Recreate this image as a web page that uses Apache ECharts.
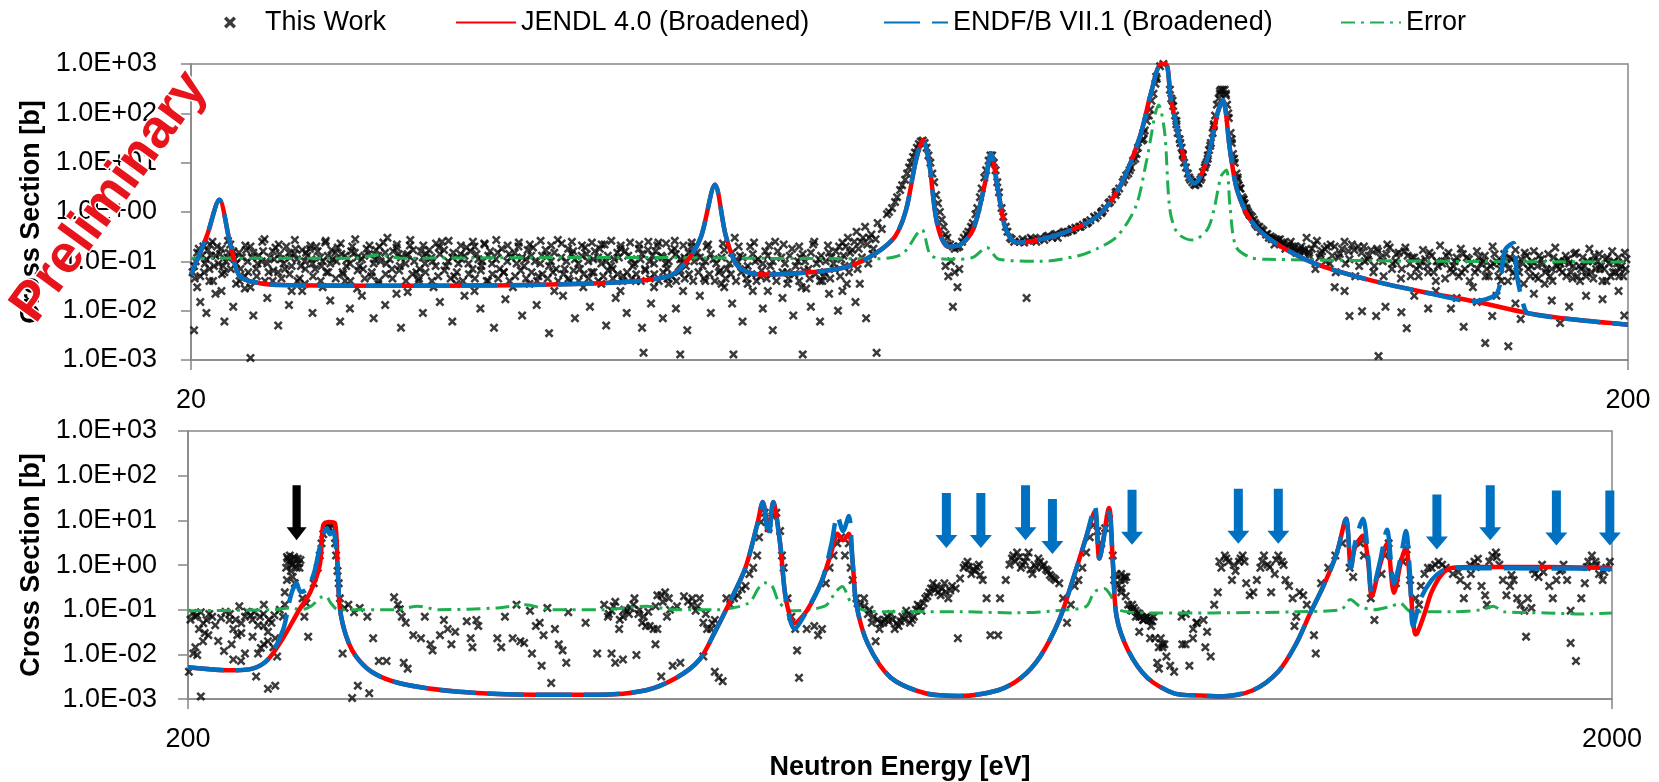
<!DOCTYPE html>
<html><head><meta charset="utf-8">
<script src="https://cdn.jsdelivr.net/npm/echarts@6/dist/echarts.min.js"></script>
<style>html,body{margin:0;padding:0;background:#fff}#c{width:1659px;height:782px}</style>
</head><body><div id="c"></div>
<script>
// ---------- data (energy eV, cross section b) ----------
const yTicks = [0.001, 0.01, 0.1, 1, 10, 100, 1000];
const topXTicks = [20, 200];
const botXTicks = [200, 2000];
const seriesNames = ['This Work', 'JENDL 4.0 (Broadened)', 'ENDF/B VII.1 (Broadened)', 'Error'];

const topWork = [
[20.1,.08],[20.2,.15],[20.3,.05],[20.4,.2],[20.5,.11],[20.6,.07],[20.7,.25],[20.8,.13],[20.9,.09],[21.0,.18],[21.1,.06],[21.2,.12],[21.3,.22],[21.5,.09],[21.6,.15],[21.8,.05],[21.9,.1],[22.0,.2],[22.2,.07],[22.3,.13],[22.5,.28],[22.6,.09],[22.8,.16],[23.0,.06],[23.1,.11],[23.3,.2],[23.5,.08],[23.6,.14],[23.8,.045],[24.0,.1],[24.2,.18],[24.4,.07],[24.6,.12],[24.8,.24],[25.0,.09],[25.2,.15],[25.5,.06],[25.7,.11],[25.9,.2],[26.2,.08],[26.4,.13],[26.7,.05],[26.9,.17],[27.1,.1],[27.4,.3],[27.6,.07],[27.9,.14],[28.2,.09],[28.4,.21],[28.7,.06],[29.0,.12],[29.3,.17],[29.6,.08],[29.9,.25],[30.2,.1],[30.5,.05],[30.8,.14],[31.1,.19],[31.4,.07],[31.7,.11],[32.0,.23],[32.4,.09],[32.7,.15],[33.0,.06],[33.4,.12],[33.8,.2],[34.1,.08],[34.5,.13],[34.9,.05],[35.3,.17],[35.6,.1],[36.0,.27],[36.4,.07],[36.8,.14],[37.2,.09],[37.6,.19],[38.0,.06],[38.4,.12],[38.8,.22],[39.2,.08],[39.6,.15],[40.0,.05],[40.5,.11],[41.0,.18],[41.4,.07],[41.9,.13],[42.3,.24],[42.8,.09],[43.2,.16],[43.7,.06],[44.1,.12],[44.6,.2],
[20.15,.1],[20.35,.13],[20.55,.17],[20.75,.08],[20.95,.14],[21.15,.1],[21.4,.16],[21.7,.12],[22.1,.15],[22.4,.1],[22.7,.12],[22.9,.19],[23.2,.09],[23.4,.15],[23.7,.11],[23.9,.17],[24.1,.13],[24.3,.09],[24.5,.16],[24.7,.1],[24.9,.13],[25.1,.11],[25.3,.19],[25.6,.13],[25.8,.09],[26.0,.15],[26.3,.11],[26.5,.18],[26.8,.09],[27.0,.13],[27.3,.15],[27.5,.11],[27.8,.19],[28.0,.12],[28.3,.14],[28.6,.1],[28.9,.16],[29.1,.09],[29.4,.12],[29.8,.14],[30.0,.17],[30.4,.12],[30.7,.09],[31.0,.13],[31.3,.16],[31.6,.14],[31.9,.1],[32.2,.13],[32.6,.11],[32.9,.18],[33.2,.1],[33.6,.15],[34.0,.12],[34.3,.17],[34.7,.1],[35.1,.13],[35.5,.08],[35.8,.15],[36.2,.12],[36.6,.18],[37.0,.11],[37.4,.13],[37.8,.1],[38.2,.16],[38.6,.09],[39.0,.13],[39.4,.11],[39.8,.18],[40.3,.13],[40.7,.09],[41.2,.14],[41.7,.1],[42.1,.16],[42.6,.12],[43.0,.1],[43.5,.14],[43.9,.09],[44.4,.15],[44.8,.1],
[20.05,.06],[20.25,.18],[20.45,.09],[20.65,.13],[20.85,.2],[21.05,.08],[21.25,.15],[21.45,.11],[21.65,.07],[21.85,.17],[22.05,.12],[22.25,.09],[22.45,.16],[22.65,.06],[22.85,.11],[23.05,.14],[23.25,.07],[23.45,.12],[23.65,.18],[23.85,.08],[24.05,.15],[24.25,.11],[24.45,.2],[24.65,.08],[24.85,.06],[25.05,.17],[25.25,.1],[25.45,.14],[25.65,.08],[25.85,.16],[26.1,.12],[26.35,.07],[26.6,.14],[26.85,.11],[27.05,.2],[27.35,.09],[27.65,.16],[27.95,.08],[28.25,.13],[28.55,.17],[28.85,.07],[29.15,.14],[29.45,.1],[29.75,.19],[30.1,.08],[30.45,.15],[30.85,.11],[31.2,.09],[31.5,.2],[31.85,.08],[32.3,.16],[32.8,.07],[33.3,.14],[33.7,.09],[34.2,.11],[34.6,.19],[35.0,.09],[35.4,.13],[35.9,.07],[36.5,.1],[36.9,.16],[37.3,.07],[37.7,.14],[38.1,.11],[38.5,.18],[38.9,.1],[39.3,.07],[39.7,.12],[40.1,.16],[40.6,.08],[41.1,.11],[41.6,.17],[42.0,.09],[42.5,.13],[42.9,.07],[43.4,.18],[43.8,.11],[44.2,.08],[44.7,.14],
[20.12,.045],[20.42,.06],[20.72,.04],[21.02,.055],[21.32,.07],[21.62,.04],[21.92,.06],[22.22,.05],[22.52,.04],[22.82,.065],[23.12,.045],[23.42,.055],[23.72,.04],[24.02,.07],[24.32,.05],[24.62,.04],[24.92,.06],[25.22,.045],[25.52,.055],[25.82,.04],[26.12,.065],[26.42,.045],[26.72,.06],[27.02,.04],[27.32,.055],[27.62,.045],[27.92,.065],[28.22,.04],[28.52,.055],[28.82,.045],[29.12,.06],[29.42,.04],[29.72,.05],[30.02,.065],[30.32,.045],[30.62,.06],[30.92,.04],[31.22,.055],[31.52,.045],[31.82,.065],[32.12,.04],[32.42,.055],[32.72,.045],[33.02,.06],[33.32,.04],[33.62,.05],[33.92,.065],[34.22,.045],[34.52,.06],[34.82,.04],[35.12,.055],[35.42,.045],[35.72,.06],[36.02,.04],[36.32,.055],[36.62,.045],[36.92,.065],[37.22,.04],[37.52,.055],[37.82,.045],[38.12,.06],[38.42,.04],[38.72,.05],[39.02,.065],[39.32,.045],[39.62,.055],[39.92,.04],[40.22,.06],[40.52,.045],[40.82,.055],[41.12,.04],[41.42,.065],[41.72,.045],[42.02,.055],[42.32,.04],[42.62,.06],[42.92,.045],[43.22,.05],[43.52,.04],[43.82,.065],[44.12,.045],[44.42,.055],[44.72,.04],[45.1,.06],[45.5,.045],[45.9,.055],[46.3,.04],[46.7,.065],[47.1,.045],[47.5,.055],[47.9,.04],[48.3,.06],[48.7,.045],[49.1,.055],[49.5,.04],[49.9,.065],[50.3,.045],[50.7,.055],[51.1,.04],[51.6,.06],[52.1,.045],[52.6,.055],[53.0,.04],[53.4,.065],[53.9,.045],[54.4,.055],[54.8,.04],[55.2,.06],[55.7,.045],[56.1,.07],[56.6,.05],[57.0,.08],[57.4,.06],[57.8,.1],[58.2,.07],[58.6,.12],[59.2,.09],[59.6,.14],
[20.62,.22],[21.22,.26],[21.82,.21],[22.42,.25],[23.02,.22],[23.62,.27],[24.22,.21],[24.82,.26],[25.42,.23],[26.02,.28],[26.62,.21],[27.22,.24],[27.82,.22],[28.42,.27],[29.02,.21],[29.62,.23],[30.22,.26],[30.82,.21],[31.42,.25],[32.02,.22],[32.62,.27],[33.22,.21],[33.82,.24],[34.42,.22],[35.02,.26],[35.62,.21],[36.22,.23],[36.82,.25],[37.42,.21],[38.02,.24],[38.62,.22],[39.22,.26],[39.82,.21],[40.42,.24],[41.02,.22],[41.62,.25],[42.22,.21],[42.82,.23],[43.42,.26],[44.02,.21],[44.62,.24],[45.7,.2],[46.9,.23],[48.1,.2],[49.3,.24],[50.5,.21],[51.7,.22],[53.0,.2],[54.3,.25],[55.5,.21],[56.8,.24],
[20.2,.03],[20.6,.04],[21.0,.025],[21.5,.035],[22.0,.03],[22.8,.04],[23.5,.025],[24.0,.035],[24.7,.03],[25.6,.04],[26.1,.028],[27.0,.035],[27.8,.022],[28.8,.04],[29.5,.03],[30.6,.035],[31.5,.025],[32.2,.04],[33.5,.03],[34.4,.035],[35.8,.025],[36.7,.04],[37.5,.03],[38.6,.035],[39.8,.025],[40.8,.04],[42.0,.03],[43.0,.035],[44.0,.025],[45.6,.04],[47.0,.03],[48.8,.035],[50.4,.025],[52.0,.035],[53.6,.028],[55.0,.04],[56.8,.025],[58.4,.035],
[20.1,.004],[20.3,.015],[20.5,.009],[20.8,.022],[21.1,.006],[21.4,.012],[21.8,.028],[22.1,.008],[22.6,.018],[23.0,.005],[23.4,.013],[23.9,.025],[24.3,.009],[25.0,.016],[25.4,.006],[25.8,.011],[26.3,.02],[26.8,.007],[27.3,.013],[28.0,.0045],[28.3,.024],[29.0,.009],[29.8,.015],[30.4,.006],[31.0,.02],[31.8,.011],[32.5,.0045],[33.1,.017],[34.0,.008],[34.8,.013],[35.5,.0035],[36.3,.02],[37.0,.007],[37.9,.012],[38.9,.005],[39.5,.018],[40.2,.009],[41.2,.0045],[41.8,.014],[42.6,.007],[43.5,.011],[44.3,.004],
[22.0,.0011],[41.3,.0014],[43.8,.0013],[47.7,.0013],[53.3,.0013],[60.0,.0014],
[45.0,.15],[45.4,.08],[45.8,.22],[46.2,.11],[46.6,.06],[47.0,.17],[47.4,.09],[47.8,.3],[48.2,.13],[48.6,.07],[49.0,.2],[49.4,.1],[49.8,.05],[50.2,.16],[50.6,.08],[51.0,.25],[51.5,.12],[52.0,.06],[52.4,.18],[52.9,.1],[53.3,.14],[53.8,.07],[54.2,.22],[54.7,.11],[55.1,.05],[55.6,.15],[56.0,.09],[56.5,.2],[56.9,.13],[57.3,.3],[57.7,.17],[58.1,.4],[58.5,.25],[58.9,.5],[59.3,.3],[59.7,.18],[60.1,.6],[60.5,.45],[61.0,.9],
[45.2,.12],[45.6,.1],[46.0,.14],[46.4,.09],[46.8,.12],[47.2,.07],[47.6,.15],[48.0,.1],[48.4,.12],[48.8,.08],[49.2,.14],[49.6,.11],[50.0,.09],[50.4,.13],[50.8,.1],[51.2,.16],[51.8,.09],[52.2,.13],[52.7,.08],[53.1,.12],[53.5,.1],[54.0,.15],[54.5,.09],[54.9,.13],[55.3,.1],[55.8,.12],[56.2,.16],[56.7,.11],[57.1,.2],[57.5,.15],[57.9,.25],[58.3,.18],[58.7,.3],[59.1,.22],[59.5,.35],[59.9,.28],
[45.2,.02],[46.0,.009],[46.8,.035],[47.6,.014],[48.4,.006],[49.2,.025],[50.0,.011],[50.8,.004],[51.6,.018],[52.5,.008],[53.2,.03],[54.0,.012],[54.8,.006],[55.6,.022],[56.4,.01],[57.2,.035],[58.0,.015],[59.0,.007],
[61.5,1.2],[62.0,2.0],[62.5,3.5],[63.0,6],[63.4,10],[63.8,16],[64.2,24],[64.6,28],[65.0,20],[65.4,10],[65.8,4],[66.2,1.5],[66.6,.7],[67.0,.35],[67.5,.22],[68.0,.18],[68.5,.2],[69.0,.3],[69.5,.4],
[61.2,1],[61.8,1.6],[62.3,2.8],[62.8,4.5],[63.2,8],[63.6,13],[64,20],[64.4,27],[64.8,25],[65.2,14],[65.6,6],[66,2.2],[66.4,1],[66.8,.5],[67.2,.3],[67.8,.2],[68.3,.19],[68.8,.25],[69.3,.35],[69.8,.5],[70.3,.9],[70.8,2],[71.3,5],[71.8,11],[72.2,14],[72.6,7],[73.0,2.5],[73.5,.8],[74.0,.4],[74.5,.28],
[67.0,.08],[67.3,.05],[67.6,.1],[68.0,.06],[68.3,.03],[67.8,.012],[68.5,.07],
[70.0,.6],[70.5,1.2],[71.0,3],[71.5,7],[72.0,14],[72.4,10],[72.8,4],[73.3,1.2],[73.8,.5],[74.3,.3],[74.8,.25],
[75.5,.25],[76,.24],[76.5,.26],[77,.28],[77.5,.25],[78,.3],[78.5,.27],[79,.33],[79.5,.3],[80,.36],[81,.4],[82,.45],[83,.5],[84,.62],[85,.8],[86,1.0],[87,1.5],[88,2.5],[89,4],[90,7],[91,15],[92,40],[93,120],[94,500],[95,1000],[96,300],[97,60],[98,15],[99,5],[100,3.5],[101,5],[102,12],[103,60],[104,280],[105,250],[106,30],[107,5],[108,1.8],[109,.9],[110,.6],[111,.4],[112,.35],[113,.28],[114,.25],[115,.22],[116,.2],[117,.18],[118,.16],[119,.15],[120,.13],
[75.8,.28],[76.8,.3],[77.8,.28],[78.8,.32],[79.8,.35],[80.8,.37],[81.5,.4],[82.5,.48],[83.5,.55],[84.5,.68],[85.5,.85],[86.5,1.2],[87.5,1.8],[88.5,3],[89.2,4.5],[90.2,8],[91.2,20],[92,30],[92.8,90],[93.8,400],[94.5,900],[96.2,200],[96.8,90],[97.2,40],[97.8,20],[98.2,10],[99.2,4.5],[100.2,4],[100.8,4.5],[101.8,10],[102.2,18],[102.8,40],[103.2,90],[104,250],[104.8,300],[105.2,150],[105.8,40],[106.2,15],[106.8,6],[107.2,3.5],[107.8,2],[108.2,1.5],[108.8,1],[109.8,.7],[110.8,.5],[111.5,.42],[112.2,.36],[113.2,.3],[114.2,.27],[115.2,.24],[116.2,.22],[117.2,.2],[118.2,.18],[119.2,.17],
[80.2,.3],[81.2,.38],[82.2,.43],[83.2,.5],[84.2,.62],[85.2,.75],[86.2,1.05],[87.2,1.6],[88.2,2.6],[89.8,6],[90.8,12],[91.8,28],[92.2,45],[93.2,180],[93.9,550],[96.4,180],[97,70],[97.6,25],[98,14],[98.8,6],[99.8,3.6],[100.4,4],[101.2,6.5],[101.6,9],[102,14],[102.4,22],[103,55],[103.8,200],[104.2,300],[105,230],[105.4,100],[106,25],[106.4,12],[107,4.5],[107.4,3],[108,1.8],[108.6,1.1],[109.2,.85],[110.2,.55],[111.2,.45],[112.8,.32],[113.8,.28],[114.8,.24],[116.8,.2],[118.8,.17],
[76.3,.018],[82,.42],[84,.58],[86,.95],[88,2.2],[89.5,5.5],[90.5,11],[92.5,70],[93.5,250],[96.5,140],[97.5,30],[98.5,8],[99.5,4],[100.5,3.8],[101.5,8],[102.5,25],[103.5,150],[104.5,300],[105.5,80],[106.5,10],[107.5,3],[108.5,1.2],[109.5,.8],[110.5,.5],
[112.5,.3],[113.5,.22],[114.5,.28],[115.5,.18],[116.5,.25],[117.5,.15],[118.5,.2],[119.5,.3],[121.5,.26],[122.5,.16],[123.5,.2],[124.5,.13],[126.5,.18],[128.5,.22],[130.5,.15],[132.5,.17],[134.5,.12],[136.5,.19],[138.5,.15],[140.5,.13],
[120,.15],[121,.22],[122,.12],[123,.18],[124,.09],[125,.2],[126,.14],[127,.25],[128,.11],[129,.17],[130,.08],[131,.2],[132,.13],[133,.06],[134,.16],[135,.1],[136,.22],[137,.07],[138,.14],[139,.045],[140,.19],[141,.09],[142,.12],[143,.05],[144,.17],[145,.08],[146,.13],[147,.04],[148,.21],[149,.1],[150,.15],[151,.06],[152,.12],[153,.18],[154,.07],[155,.11],[156,.03],[157,.16],[158,.09],[159,.13],[160,.05],[161,.2],[162,.1],[163,.07],[164,.14],[165,.04],[166,.11],[167,.17],[168,.06],[169,.09],[170,.13],[171,.05],[172,.16],[173,.08],[174,.11],[175,.035],[176,.14],[177,.07],[178,.19],[179,.1],[180,.06],[181,.13],[182,.09],[183,.045],[184,.15],[185,.08],[186,.12],[187,.05],[188,.18],[189,.1],[190,.07],[191,.14],[192,.04],[193,.11],[194,.09],[195,.16],[196,.06],[197,.12],[198,.08],[199,.15],
[141.5,.12],[143.5,.1],[145.5,.15],[147.5,.08],[149.5,.13],[151.5,.1],[153.5,.14],[155.5,.09],[157.5,.12],[159.5,.07],[161.5,.14],[163.5,.1],[165.5,.12],[167.5,.08],[169.5,.15],[171.5,.1],[173.5,.13],[175.5,.07],[177.5,.12],[179.5,.09],[181.5,.11],[183.5,.14],[185.5,.07],[187.5,.1],[189.5,.13],[191.5,.08],[193.5,.12],[195.5,.1],[197.5,.07],[199.5,.11],
[120.5,.18],[122.2,.14],[124.2,.22],[125.8,.12],[127.8,.16],[129.8,.2],[131.8,.11],[133.8,.18],[135.8,.14],[137.8,.1],[139.8,.16],[142.5,.07],[144.5,.11],[146.5,.06],[148.5,.09],[150.5,.07],[152.5,.05],[154.5,.12],[156.5,.06],[158.5,.1],[160.5,.08],[162.5,.05],[164.5,.09],[166.5,.06],[168.5,.11],[170.5,.07],[172.5,.05],[174.5,.09],[176.5,.05],[178.5,.08],[180.5,.1],[182.5,.06],[184.5,.05],[186.5,.08],[188.5,.06],[190.5,.1],[192.5,.07],[194.5,.05],[196.5,.09],[198.5,.05],
[121.2,.07],[123.2,.1],[125.2,.06],[127.2,.09],[129.2,.05],[131.2,.1],[133.2,.08],[135.2,.05],[137.2,.09],[139.2,.07],[141.2,.05],[143.2,.08],[145.2,.06],[147.2,.1],[149.2,.045],[151.2,.08],[153.2,.06],[155.2,.04],[157.2,.07],[159.2,.05],[161.2,.09],[163.2,.04],[165.2,.07],[167.2,.05],[169.2,.035],[171.2,.08],[173.2,.045],[175.2,.06],[177.2,.04],[179.2,.07],[181.2,.05],[183.2,.08],[185.2,.04],[187.2,.06],[189.2,.045],[191.2,.07],[193.2,.04],[195.2,.06],[197.2,.05],[199.2,.07],
[128,.0078],[130.6,.0097],[133.6,.0078],[135.6,.012],[139.1,.0093],[140.3,.0044],[145.2,.011],[150.6,.011],[153.7,.0047],[159.1,.0022],[160.9,.0078],[165.1,.0019],[168.4,.0068],[179.4,.0056],[134.1,.0012],[198.8,.008],
[125,.03],[127,.025],[142,.02],[147,.025],[152,.018],[157,.015],[162,.02],[167,.014],[172,.022],[177,.016],[182,.012],[187,.02],[192,.017],[197,.025]
];

const topJendl = [[20,.054],[20.51,.32],[20.93,1.77],[21.29,.234],[21.63,.0495],[22.34,.036],[23.18,.033],[27.96,.032],[38.52,.036],[43.02,.05],[44.36,.108],[45.29,.32],[46.31,3.56],[47.13,.32],[48.06,.079],[49.86,.054],[53.94,.06],[57.40,.079],[59.94,.147],[61.80,.32],[62.90,1.11],[63.91,11.4],[64.64,28.7],[65.27,10],[66.10,.6],[67.28,.2],[68.58,.215],[70.03,.44],[71.38,3.84],[72.07,15.5],[72.88,2.8],[73.82,.44],[75.13,.24],[80.35,.35],[85.42,.81],[88.62,3.3],[91.50,34],[93.13,256],[94.64,1000],[95.40,1000],[96.17,187],[97.88,18],[98.98,5],[99.86,3.8],[101.9,11.5],[103.6,100],[104.5,187],[105.7,18],[106.9,2.8],[109.2,.7],[112.9,.27],[120.9,.092],[131.7,.043],[143.5,.0245],[156.3,.0155],[170.4,.0089],[183.4,.0066],[200,.0052]];

const topEndf = [[20,.054],[20.51,.32],[20.93,1.77],[21.29,.234],[21.63,.0495],[22.34,.036],[23.18,.033],[27.96,.032],[38.52,.036],[43.02,.05],[44.36,.108],[45.29,.32],[46.31,3.56],[47.13,.32],[48.06,.079],[49.86,.054],[53.94,.06],[57.40,.079],[59.94,.147],[61.80,.32],[62.90,1.11],[63.91,11.4],[64.64,28.7],[65.27,10],[66.10,.6],[67.28,.2],[68.58,.215],[70.03,.44],[71.38,3.84],[72.07,15.5],[72.88,2.8],[73.82,.44],[75.13,.24],[80.35,.35],[85.42,.81],[88.62,3.3],[91.50,34],[93.13,256],[94.64,1000],[95.40,1000],[96.17,187],[97.88,18],[98.98,5],[99.86,3.8],[101.9,11.5],[103.6,100],[104.5,187],[105.7,18],[106.9,2.8],[109.2,.7],[112.9,.27],[120.9,.092],[131.7,.043],[143.5,.0245],[156.3,.0155],[161.8,.021],[163.1,.043],[164.2,.17],[166.5,.234],[167.4,.05],[169.3,.012],[170.4,.0089],[183.4,.0066],[200,.0052]];

const topError = [[20,.116],[26,.116],[27,.135],[28,.116],[40,.12],[50,.115],[60,.113],[62.5,.14],[64.5,.44],[65.5,.13],[68,.11],[70,.12],[71.6,.19],[73,.11],[78,.1],[82.9,.13],[85.4,.18],[88.2,.32],[90.9,1.3],[92.5,11.4],[94.3,148],[95.2,40],[96.0,1.1],[97.2,.37],[99.6,.27],[101.9,.44],[103.0,1.1],[104.2,5.3],[105.1,7.1],[105.7,1.3],[106.7,.2],[109.2,.12],[112.3,.11],[150,.1],[200,.097]];

const botWork = [
[201.5,.084],[202.4,.07],[204.2,.088],[206.1,.059],[208,.07],[203.6,.037],[204.9,.0197],[202.4,.0144],[201.7,.0105],[206.7,.027],[203,.0097],[200.3,.0041],[204.2,.00115],
[213.9,.059],[215.2,.037],[216.6,.027],[214.6,.0168],[219.3,.07],[221.3,.075],[222.7,.088],[224.7,.07],[226.1,.043],[227.6,.032],[228.9,.051],[230.3,.023],[226.1,.0168],[224,.0105],[219.3,.0105],[217.9,.0071],[215.2,.0077],[227.6,.0197],[229.6,.0144],[231,.009],[223.3,.0032],[227.6,.0017],[230.3,.002],[226.1,.13],[217.3,.12],[233.2,.07],[233.9,.13],
[200.8,.06],[203,.075],[205,.05],[207,.08],[209,.045],[211,.065],[212.5,.09],[214,.08],[216,.06],[218,.05],[220,.09],[222,.06],[224,.045],[226,.08],[228,.06],[230,.075],[232,.1],[205.5,.03],[210,.02],[212,.012],[218,.03],[222,.025],[225,.014],
[234.7,1.51],[235.4,1.19],[236.2,1.29],[236.9,1.02],[237.7,1.39],[238.4,.87],[239.2,1.1],[239.9,1.29],[236.2,.74],[236.9,.54],[234.7,.46],[233.9,.245],[237.7,.39],[240.7,.18],[242.2,.14],[242.9,.025],[241.4,.07],[235,1.39],[235.8,1.63],[237.4,1.51],[238.9,1.39],[236.5,1.02],[234.4,.87],[239.5,.87],
[245.1,.39],[246.7,.87],[247.5,1.63],[248.2,3.06],[248.9,4.9],[249.8,6.7],[250.5,7.9],[251.3,6.7],[252.1,7.9],[252.9,5.7],[253.7,3.06],[254.1,1.63],[254.7,.74],[255.2,.39],[255.7,.18],
[257.6,.11],[259.2,.13],[261.6,.088],[264,.11],[256.8,.0105],[260.8,.00106],[263.2,.002],[268.1,.00135],[267.3,.07],[269.8,.023],[272.3,.0071],[275.7,.0071],[279.1,.19],[280.8,.13],[282.6,.07],[284.4,.051],[281.7,.103],[283.5,.0065],[285.3,.0048],[287.9,.027],[291.5,.023],[293.3,.07],[296,.0168],[297,.0123],[300.6,.027],[302.5,.059],[304.4,.037],[306.2,.0168],[308.1,.032],[313.9,.055],[316.8,.0144],[318.8,.059],[319.8,.043],[315.9,.023],[329.8,.023],[331.9,.0144],[333.9,.07],[338.1,.023],[340.2,.13],[342.3,.0197],[344.4,.018],[347.7,.095],[348.8,.0105],[351,.043],[353.2,.051],[354.3,.0056],[355.4,.027],[357.6,.11],[359.8,.0023],[362,.037],[364.3,.0168],[366.5,.0123],[368.7,.0065],[369.9,.088],[380.4,.051],[387.6,.0105],
[392,.13],[394.4,.07],[396.7,.095],[399.1,.15],[401.6,.037],[404.1,.07],[406.6,.095],[409.2,.11],[411.7,.18],[414.3,.08],[416.8,.051],[419.4,.043],[422,.043],[424.6,.037],[427.2,.21],[429.9,.21],[432.6,.245],[435.2,.18],[433.9,.07],[427.2,.037],[425.9,.0168],[396.7,.0105],[399.1,.0065],[404.1,.0077],[413,.0097],[429.9,.0032],[437.9,.0056],[443.4,.0065],[448.9,.153],[451.7,.13],[454.5,.095],[457.4,.18],[460.2,.051],[463,.037],[465.9,.037],[468.8,.059],[460.2,.009],[468.8,.0041],[471.8,.003],[474.8,.0025],[477.7,.18],[480.6,.13],[483.6,.18],[486.6,.21],[489.7,.29],[492.7,.34],[495.7,.63],[498.8,.87],[502,1.63],[503.6,4.2],[505.1,9.2],[508.3,14.8],[511.4,6.7],[514.6,12.6],[517.8,14.8],[521,5.8],[522.6,1.63],[524,.87],[527.3,.18],[530.6,.07],[533.9,.037],[535.5,.0123],[537.2,.003],[543.9,.037],[550.6,.043],[554,.027],[557.5,.037],[561,.39],[564.4,.87],[568,1.63],[571.5,3.06],[575,4.2],[578.6,1.63],[582.2,3.06],[584,.87],[585.8,.46],[589.4,.18],[593,.13],[596.7,.18],[600.5,.08],[604.2,.051],[608,.0197],[611.8,.037],[615.6,.051],[619.4,.07],[623.2,.08],[627.1,.037],[631,.043],[634.9,.07],[638.8,.095],[642.8,.051],[646.8,.07],[650.8,.13],[654.8,.095],[658.9,.18],[663,.245],[667.1,.39],[671.2,.34],[675.4,.21],[679.6,.39],[683.8,.18],[688,.34],[694.5,.023],[701,.87],[705.4,1.19],[709.8,.63],[714.2,.74],[718.6,1.02],[723,.46],[727.5,.18],[732,.027],[741.2,.027],[743.5,.18],[750.4,.46],[755,1.02],[759.6,1.63],[764.3,1.91],[769,.87],[773.8,1.19],[778.6,1.91],[783.5,.63],[788.3,.87],[793.2,1.19],[798.2,1.02],[803.2,.74],[808.2,.54],[813.2,.46],[818.2,.39],[823.3,.18],[828.5,.051],[833.6,.13],[838.8,.34],[844,.46],[849.3,.87],[854.6,1.91],[859.6,4.2],[865,7.9],[870.4,5.8],[875.8,3.06],[881.2,6.7],[886.7,10.8],[892.2,1.63],[897.8,.63],[903.4,.46],[909,.54],[914.6,.13],[920.3,.095],[926,.07],[931.8,.08],[937.5,.059],[943.4,.07],[949.2,.043],[955.1,.023],[961,.0144],[967,.0168],[973,.009],[979,.0056],[985.2,.0041],[997.2,.07],[1003.5,.0168],[1016,.037],[1022.4,.051],
[395,.08],[398,.12],[402,.06],[405,.1],[408,.08],[411,.13],[415,.1],[418,.07],[421,.09],[426,.12],[431,.15],[436,.1],[441,.12],[446,.2],[452,.18],[456,.12],[462,.08],[467,.05],
[597,.12],[602,.1],[606,.07],[610,.06],[613,.05],[617,.06],[621,.055],[625,.06],[629,.05],[633,.055],[637,.06],[641,.08],[645,.06],[649,.1],[653,.12],[657,.14],[661,.2],[665,.3],[669,.28],[673,.25],[677,.3],[681,.25],[686,.27],[692,.3],[697,.5],[703,1.0],[707,.9],[712,.8],[716,.9],[720,.6],
[758,1.4],[762,1.2],[767,1.5],[771,1.0],[776,1.5],[781,.8],[786,1.0],[791,1.4],[796,.9],[801,.8],[806,.6],[811,.5],
[905,.3],[911,.2],[918,.1],[923,.11],[929,.085],[934,.07],[940,.065],[945,.06],[951,.055],
[894.2,.46],[899.3,.34],[904.4,.63],[909.5,.46],[912,.54],[904.4,.245],[920.6,.13],[925.7,.095],[931.2,.07],[936.8,.059],[942.2,.07],[947.7,.059],[953.1,.07],[931.2,.032],[947.7,.023],[964.2,.023],[969.8,.0168],[958.6,.0065],[961.4,.0048],[967,.0144],[998.3,.0168],[1004,.08],[1009.8,.0056],[1015.6,.023],[1021.4,.051],[1033.2,.059],[1036.2,.0144],[1039.2,.032],[1045.2,.009],[1051.2,.13],[1057.3,.245],[1063.4,.87],[1069.5,1.63],[1075.6,1.19],[1081.8,.46],[1088.1,.74],[1094.3,1.19],[1100.6,1.63],[1107,.39],[1113.4,.21],[1119.8,.245],[1126.2,.46],[1132.7,.87],[1139.3,1.63],[1145.9,1.02],[1152.6,.245],[1159.3,.63],[1166,1.63],[1172.8,1.19],[1179.6,.46],[1186.4,.34],[1193.3,.18],[1196.8,.043],[1200.3,.07],[1206.8,.245],[1213.9,.21],[1221,.13],[1235.2,.027],[1238.8,.0105],[1249.5,.39],[1264,.87],[1278.6,1.63],[1293.4,3.06],[1308.5,.87],[1316,.54],[1331.4,3.06],[1339,1.63],[1354.2,.18],[1362,.059],[1377.8,.63],[1385.8,1.63],[1393.8,3.06],[1410.2,.39],[1426.6,1.19],[1434.8,2.23],[1443,.46],[1455.6,.18],[1464,.13],[1468.4,.34],[1476.8,.63],[1485.2,.87],[1494,.87],[1502.6,1.02],[1511,1.19],[1519.6,1.02],[1528.6,.87],[1546.2,.63],[1564.8,.46],[1573.8,.18],[1582.8,.34],[1592,.63],[1601,1.19],[1610.3,1.39],[1619.6,.34],[1629,.21],[1633.7,.13],[1648.2,1.63],[1657.6,1.91],[1667,1.02],[1676.6,.46],[1686.2,.21],[1696,.34],[1705.8,.46],[1715.6,.18],[1725.6,.13],[1735.6,.095],[1740.6,.025],[1745.6,.18],[1755.7,.11],[1765.8,.63],[1776,.54],[1786.2,1.02],[1807,.34],[1817.5,.18],[1828,.46],[1838.5,.74],[1849.2,1.02],[1860,.46],[1870.6,.095],[1870.6,.018],[1886.8,.0071],[1903,.18],[1914,.39],[1925,1.19],[1936,1.63],[1947.2,1.19],[1958.6,.63],[1970,.46],[1981.4,.87],[1993,1.19],
[1060,1.2],[1072,1.4],[1085,1.0],[1097,1.4],[1104,1.2],[1136,1.2],[1150,.9],[1162,1.3],[1176,1.0],
[1560,.7],[1590,1.0],[1605,.9],[1640,1.2],[1660,1.5],[1700,.6],[1760,.8],[1790,.7],[1845,.8],[1920,.9],[1950,1.0],[1975,.7]
];

const botJendl = [[200,.00515],[213.9,.0044],[222,.0048],[227.6,.0077],[233.2,.023],[239.2,.095],[243.7,.245],[247.5,1.0],[248.9,7.9],[251.2,9.2],[253.7,8.5],[254.7,1.0],[256,.081],[260.8,.0123],[269,.0041],[282.6,.0022],[310,.00146],[351,.00125],[387.6,.00125],[419.4,.00158],[440.6,.003],[457.4,.0077],[468.8,.0316],[480.5,.153],[492.6,.87],[502,7.9],[506.6,25.7],[511.4,5.8],[515.2,25.7],[521,3.06],[525.8,.18],[533.3,.05],[544,.095],[557.6,.46],[566.2,2.0],[571.6,5.0],[576.8,3.6],[582.2,5.0],[585.8,1.19],[589.4,.13],[600.5,.017],[623.2,.003],[658.8,.00135],[696.8,.00118],[741.2,.00158],[769.2,.003],[793.2,.0089],[818.2,.059],[838.8,.63],[854.6,4.2],[866.8,16],[873,1.4],[886.8,19],[892.2,1.2],[897.8,.069],[914.6,.0123],[943.6,.003],[985.2,.00135],[1027.6,.0012],[1062.8,.00115],[1119.2,.00158],[1165.6,.0041],[1199.8,.017],[1227.2,.081],[1256.6,.39],[1282,1.9],[1301,10.8],[1311.4,.87],[1320,2.5],[1337,4.5],[1348.2,1.2],[1356.2,.2],[1374.4,1.0],[1390,3.0],[1405.8,.24],[1421.8,1.2],[1433.2,2.5],[1442.6,.4],[1455.6,.028],[1459.8,.03],[1476.8,.081],[1494,.25],[1519.6,.63],[1546.2,.87],[1600,.9],[1800,.9],[2000,.85]];

const botEndf = [[200,.00515],[213.9,.0044],[222,.0048],[227.6,.0077],[233.2,.035],[236.2,.21],[238.4,.39],[239.9,.25],[242.2,.28],[245.1,.63],[248.2,3.6],[250.5,6.7],[251.6,4.9],[252.9,5.7],[254.7,1.0],[256,.081],[260.8,.0123],[269,.0041],[282.6,.0022],[310,.00146],[351,.00125],[387.6,.00125],[419.4,.00158],[440.6,.003],[457.4,.0077],[468.8,.0316],[480.5,.153],[492.6,.87],[502,7.9],[506.6,25.7],[511.4,4.2],[515.2,25.7],[521,3.06],[525.8,.18],[533.3,.037],[544,.095],[557.6,.46],[566.2,3.06],[571.6,12.6],[576.8,5.8],[582.2,12.6],[585.8,1.19],[589.4,.13],[600.5,.017],[623.2,.003],[658.8,.00135],[696.8,.00118],[741.2,.00158],[769.2,.003],[793.2,.0089],[818.2,.059],[838.8,.63],[854.6,4.2],[866.8,20.3],[873,1.4],[886.8,15],[892.2,1.2],[897.8,.069],[914.6,.0123],[943.6,.003],[985.2,.00135],[1027.6,.0012],[1062.8,.00115],[1119.2,.00158],[1165.6,.0041],[1199.8,.017],[1227.2,.081],[1256.6,.39],[1282,1.9],[1301,10.8],[1311.4,.87],[1320,3.06],[1337,10.8],[1348.2,1.6],[1356.2,.245],[1374.4,1.2],[1390,6.2],[1405.8,.39],[1421.8,1.6],[1433.2,5.8],[1442.6,.63],[1449.8,.043],[1468.4,.18],[1494,.46],[1519.6,.74],[1546.2,.87],[1600,.85],[1800,.84],[2000,.82]];

const botError = [[200,.095],[230,.1],[236,.11],[240,.1],[244,.12],[248,.19],[250,.2],[252,.14],[255,.1],[280,.1],[290,.12],[300,.1],[330,.11],[345,.13],[360,.1],[390,.1],[420,.12],[440,.1],[470,.1],[495,.14],[503,.3],[508,.4],[514,.35],[520,.15],[530,.095],[560,.12],[570,.25],[576,.33],[584,.15],[595,.1],[620,.09],[700,.09],[760,.085],[830,.1],[855,.12],[866,.25],[880,.3],[890,.2],[900,.1],[950,.085],[1050,.085],[1200,.09],[1290,.1],[1310,.17],[1330,.12],[1360,.1],[1400,.12],[1420,.14],[1445,.09],[1550,.09],[1620,.1],[1650,.12],[1680,.09],[1800,.085],[1900,.08],[2000,.085]];

// arrow annotations: [energy, cross section at the arrow tip]
const blueArrows = [[681.7,2.42],[720.8,2.42],[774.8,3.6],[809.2,1.77],[920.4,2.83],[1093,3.0],[1166,3.0],[1506.8,2.23],[1642.6,3.6],[1828,2.74],[1993,2.74]];
const blackArrows = [[238.4,3.6]];

// ---------- chart ----------
const FONT = "'Liberation Sans', Arial, sans-serif";
const AX = '#868686';
const fmtY = v => { const e = Math.round(Math.log10(v)); return '1.0E' + (e < 0 ? '-' : '+') + String(Math.abs(e)).padStart(2, '0'); };
const xSym = 'path://M2,0 L5,3 L8,0 L10,2 L7,5 L10,8 L8,10 L5,7 L2,10 L0,8 L3,5 L0,2 Z';
const arrowSym = 'path://M6.5,0 L15.5,0 L15.5,42 L22,42 L11,55 L0,42 L6.5,42 Z';

function xAxis(gi, ticks, show) {
  return { type:'log', logBase:10, gridIndex:gi, min:ticks[0], max:ticks[1],
    axisLine:{show:true, lineStyle:{color:AX, width:1.5}},
    axisTick:{show:true, customValues:ticks, length:10, lineStyle:{color:AX, width:1.5}},
    axisLabel:{customValues:ticks, formatter:v => String(v), fontSize:27, color:'#000', fontFamily:FONT, margin:27},
    splitLine:{show:false}, minorTick:{show:false},
    name: show ? 'Neutron Energy [eV]' : '', nameLocation:'middle', nameGap:28,
    nameTextStyle:{fontSize:27, fontWeight:'bold', color:'#000', fontFamily:FONT}
  };
}
function yAxis(gi, margin, gap) {
  return { type:'log', logBase:10, gridIndex:gi, min:0.001, max:1000,
    axisLine:{show:true, lineStyle:{color:AX, width:1.5}},
    axisTick:{show:true, customValues:yTicks, length:10, lineStyle:{color:AX, width:1.5}},
    axisLabel:{customValues:yTicks, formatter:fmtY, fontSize:27, color:'#000', fontFamily:FONT, margin:margin},
    splitLine:{show:false},
    name:'Cross Section [b]', nameLocation:'middle', nameRotate:90, nameGap:gap,
    nameTextStyle:{fontSize:27, fontWeight:'bold', color:'#000', fontFamily:FONT}
  };
}
function panel(gi, work, jendl, endf, err) {
  return [
    { name:seriesNames[0], type:'scatter', xAxisIndex:gi, yAxisIndex:gi, data:work,
      symbol:xSym, symbolSize:9, symbolKeepAspect:true, itemStyle:{color:'rgba(10,10,10,0.8)', opacity:1}, z:2 },
    { name:seriesNames[3], type:'line', xAxisIndex:gi, yAxisIndex:gi, data:err, symbol:'none', smooth:0.3,
      lineStyle:{color:'#1fae4f', width:3, type:[14,6,3,6]}, itemStyle:{color:'#1fae4f'}, z:3 },
    { name:seriesNames[1], type:'line', xAxisIndex:gi, yAxisIndex:gi, data:jendl, symbol:'none', smooth:0.3,
      lineStyle:{color:'#ff0000', width:4.5}, itemStyle:{color:'#ff0000'}, z:4 },
    { name:seriesNames[2], type:'line', xAxisIndex:gi, yAxisIndex:gi, data:endf, symbol:'none', smooth:0.3,
      lineStyle:{color:'#0070c0', width:4.5, type:[36,12]}, itemStyle:{color:'#0070c0'}, z:5 }
  ];
}
function legend(name, left, isLine, w) {
  const l = { data:[name], left:left, top:4, itemWidth:w, itemHeight:12, itemGap:0,
    textStyle:{fontSize:27, color:'#000', fontFamily:FONT}, selectedMode:false };
  if (isLine) l.itemStyle = { opacity:0 };
  return l;
}

const option = {
  animation:false,
  backgroundColor:'#fff',
  legend:[ legend(seriesNames[0], 219, false, 60), legend(seriesNames[1], 450, true, 60), legend(seriesNames[2], 878, true, 64), legend(seriesNames[3], 1335, true, 60) ],
  grid:[
    {left:191, top:64, width:1437, height:296, show:true, borderColor:AX, borderWidth:1.5, containLabel:false},
    {left:188, top:431, width:1424, height:292, show:true, borderColor:AX, borderWidth:1.5, containLabel:false}
  ],
  xAxis:[ xAxis(0, topXTicks, false), xAxis(1, botXTicks, true) ],
  yAxis:[ yAxis(0, 34, 145), yAxis(1, 31, 143) ],
  series:[
    ...panel(0, topWork, topJendl, topEndf, topError),
    ...panel(1, botWork, botJendl, botEndf, botError),
    { type:'scatter', xAxisIndex:1, yAxisIndex:1, data:blueArrows, symbol:arrowSym, symbolSize:[22,55],
      symbolOffset:[0,'-50%'], itemStyle:{color:'#0070c0', opacity:1}, z:10, silent:true },
    { type:'scatter', xAxisIndex:1, yAxisIndex:1, data:blackArrows, symbol:arrowSym, symbolSize:[20,55],
      symbolOffset:[0,'-50%'], itemStyle:{color:'#000', opacity:1}, z:10, silent:true }
  ],
  graphic:[{
    type:'text', x:110, y:197, rotation:54*Math.PI/180, z:100, silent:true,
    style:{ text:'Preliminary', font:"bold 54px 'Liberation Sans', Arial, sans-serif", fill:'#e8141c',
      stroke:'#ffffff', lineWidth:3, align:'center', verticalAlign:'middle',
      shadowBlur:4, shadowColor:'rgba(0,0,0,0.45)', shadowOffsetX:2, shadowOffsetY:2 }
  }]
};
const chart = echarts.init(document.getElementById('c'), null, {renderer:'canvas'});
chart.setOption(option);
</script>
</body></html>
